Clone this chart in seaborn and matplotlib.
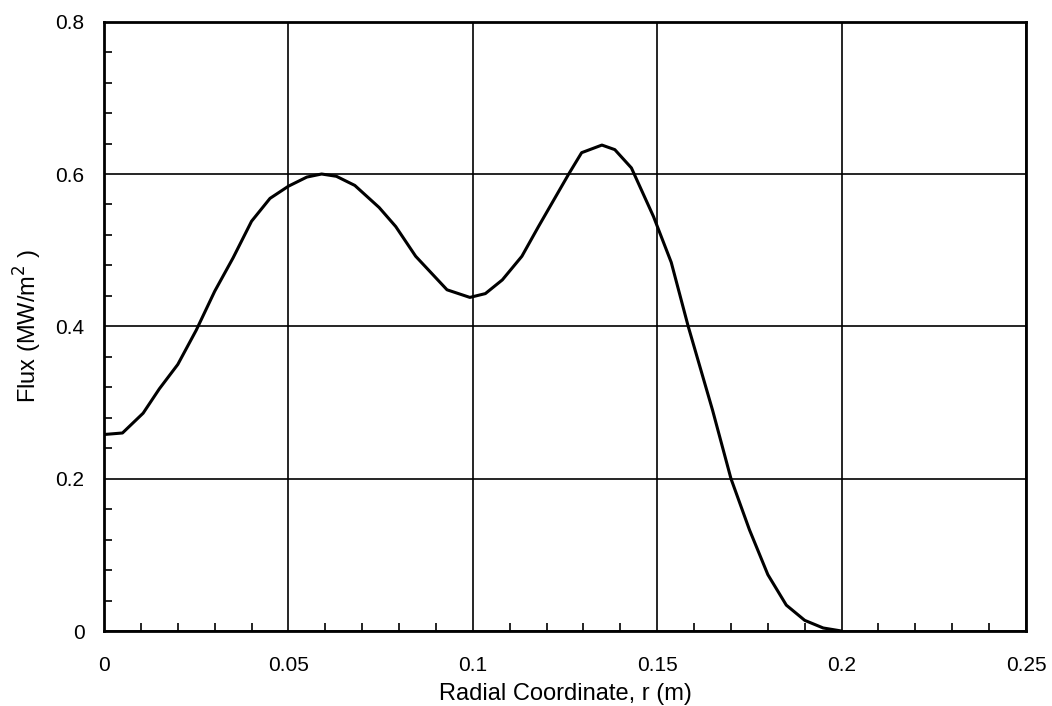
import matplotlib
matplotlib.use("Agg")
import matplotlib.pyplot as plt
from matplotlib.ticker import MultipleLocator
import seaborn as sns
import pandas as pd

# radial flux profile
radius = [0.0, 0.005, 0.0106, 0.015, 0.02, 0.025, 0.03, 0.035, 0.04, 0.045,
          0.05, 0.055, 0.059, 0.063, 0.068, 0.0746, 0.0791, 0.0845, 0.093,
          0.0992, 0.1034, 0.108, 0.1133, 0.1178, 0.126, 0.1295, 0.135,
          0.1385, 0.143, 0.149, 0.1538, 0.1584, 0.165, 0.17, 0.175, 0.18,
          0.185, 0.19, 0.195, 0.2]
flux = [0.258, 0.26, 0.286, 0.318, 0.35, 0.395, 0.446, 0.49, 0.538, 0.568,
        0.584, 0.596, 0.6, 0.597, 0.585, 0.556, 0.531, 0.492, 0.448,
        0.438, 0.443, 0.461, 0.492, 0.531, 0.6, 0.628, 0.638,
        0.632, 0.608, 0.544, 0.484, 0.4, 0.29, 0.2, 0.133, 0.074,
        0.034, 0.014, 0.004, 0.0]

x_ticks = [0, 0.05, 0.1, 0.15, 0.2, 0.25]
x_labels = ["0", "0.05", "0.1", "0.15", "0.2", "0.25"]
y_ticks = [0, 0.2, 0.4, 0.6, 0.8]
y_labels = ["0", "0.2", "0.4", "0.6", "0.8"]

df = pd.DataFrame({"r": radius, "flux": flux})

sns.set_style("ticks")
plt.rcParams["font.family"] = ["Liberation Sans", "DejaVu Sans"]
plt.rcParams["text.color"] = "black"
plt.rcParams["axes.labelcolor"] = "black"
plt.rcParams["xtick.color"] = "black"
plt.rcParams["ytick.color"] = "black"

fig = plt.figure(figsize=(10.52, 7.06), dpi=100)
ax = fig.add_axes([0.0989, 0.1062, 0.8764, 0.8631])

sns.lineplot(data=df, x="r", y="flux", ax=ax, color="black", linewidth=2.2,
             sort=False, estimator=None)

ax.set_xlim(0, 0.25)
ax.set_ylim(0, 0.8)
ax.set_xticks(x_ticks)
ax.set_xticklabels(x_labels, fontsize=15)
ax.set_yticks(y_ticks)
ax.set_yticklabels(y_labels, fontsize=15)
ax.xaxis.set_minor_locator(MultipleLocator(0.01))
ax.yaxis.set_minor_locator(MultipleLocator(0.04))
ax.tick_params(which="major", length=0)
ax.tick_params(axis="x", which="major", pad=18)
ax.tick_params(axis="y", which="major", pad=14)
ax.tick_params(which="minor", direction="in", length=6, width=1.2, color="black")

ax.grid(True, which="major", color="black", linewidth=1.2)
for s in ax.spines.values():
    s.set_linewidth(2)
    s.set_color("black")

ax.set_xlabel("Radial Coordinate, r (m)", fontsize=17, labelpad=6)
ax.set_ylabel("Flux (MW/m$^{2}$ )", fontsize=17, labelpad=8)

fig.savefig("out.png", dpi=100)
